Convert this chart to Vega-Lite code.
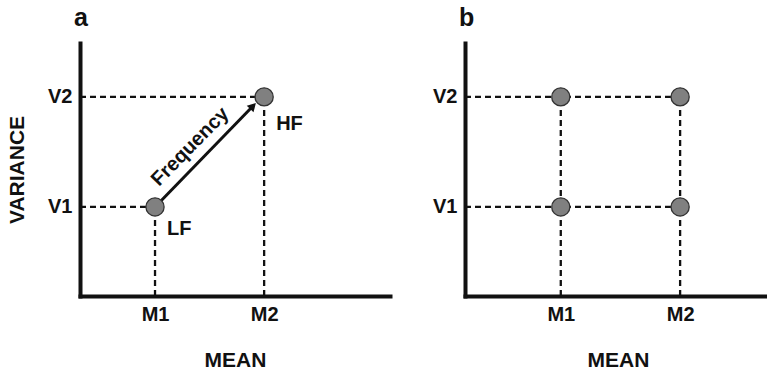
{
  "$schema": "https://vega.github.io/schema/vega-lite/v6.json",
  "padding": {"left": 6, "top": 6, "right": 0, "bottom": 0},
  "background": "white",
  "spacing": 42,
  "config": {
    "view": {"stroke": null},
    "font": "Liberation Sans",
    "axis": {
      "domainColor": "#111", "domainWidth": 4, "domainCap": "square",
      "ticks": false, "grid": false,
      "labelFont": "Liberation Sans", "labelFontSize": 20, "labelFontWeight": "bold", "labelColor": "#111", "labelPadding": 8,
      "titleFont": "Liberation Sans", "titleFontSize": 21, "titleFontWeight": "bold", "titleColor": "#111"
    },
    "title": {"font": "Liberation Sans", "fontSize": 25, "fontWeight": "bold", "anchor": "start", "frame": "group", "color": "#111", "offset": 12}
  },
  "datasets": {
    "guidesA": [
      {"x": 0, "x2": 2.42, "y": 3.52, "y2": 3.52},
      {"x": 0, "x2": 5.94, "y": 7.87, "y2": 7.87},
      {"x": 2.42, "x2": 2.42, "y": 0, "y2": 3.52},
      {"x": 5.94, "x2": 5.94, "y": 0, "y2": 7.87}
    ],
    "pointsA": [
      {"mean": 2.42, "variance": 3.52, "label": "LF"},
      {"mean": 5.94, "variance": 7.87, "label": "HF"}
    ],
    "arrow": [
      {"x": 2.42, "y": 3.52, "x2": 5.55, "y2": 7.47}
    ],
    "arrowText": [
      {"x": 3.55, "y": 5.9, "label": "Frequency"}
    ],
    "guidesB": [
      {"x": 0, "x2": 7.03, "y": 3.52, "y2": 3.52},
      {"x": 0, "x2": 7.03, "y": 7.87, "y2": 7.87},
      {"x": 3.13, "x2": 3.13, "y": 0, "y2": 7.87},
      {"x": 7.03, "x2": 7.03, "y": 0, "y2": 7.87}
    ],
    "pointsB": [
      {"mean": 3.13, "variance": 3.52},
      {"mean": 3.13, "variance": 7.87},
      {"mean": 7.03, "variance": 3.52},
      {"mean": 7.03, "variance": 7.87}
    ]
  },
  "hconcat": [
    {
      "width": 310, "height": 253,
      "title": {"text": "a", "dx": -6},
      "layer": [
        {
          "data": {"name": "guidesA"},
          "mark": {"type": "rule", "strokeDash": [6, 4], "strokeWidth": 2.3, "color": "#111"},
          "encoding": {
            "x": {"field": "x", "type": "quantitative", "scale": {"domain": [0, 10]},
                  "axis": {"values": [2.42, 5.94], "labelExpr": "datum.value < 4 ? 'M1' : 'M2'", "title": "MEAN", "titlePadding": 25}},
            "x2": {"field": "x2"},
            "y": {"field": "y", "type": "quantitative", "scale": {"domain": [0, 10]},
                  "axis": {"values": [3.52, 7.87], "labelExpr": "datum.value < 5 ? 'V1' : 'V2'", "title": "VARIANCE", "titlePadding": 20}},
            "y2": {"field": "y2"}
          }
        },
        {
          "data": {"name": "arrow"},
          "mark": {"type": "rule", "strokeWidth": 3, "color": "#111"},
          "encoding": {
            "x": {"field": "x", "type": "quantitative"},
            "x2": {"field": "x2"},
            "y": {"field": "y", "type": "quantitative"},
            "y2": {"field": "y2"}
          }
        },
        {
          "data": {"name": "arrow"},
          "mark": {"type": "point", "shape": "triangle", "angle": 44.5, "filled": true, "size": 90, "color": "#111", "opacity": 1},
          "encoding": {
            "x": {"field": "x2", "type": "quantitative"},
            "y": {"field": "y2", "type": "quantitative"}
          }
        },
        {
          "data": {"name": "pointsA"},
          "mark": {"type": "point", "shape": "circle", "filled": true, "size": 330, "fill": "#808080", "stroke": "#333", "strokeWidth": 1.3, "opacity": 1},
          "encoding": {
            "x": {"field": "mean", "type": "quantitative"},
            "y": {"field": "variance", "type": "quantitative"}
          }
        },
        {
          "data": {"name": "pointsA"},
          "transform": [{"filter": "datum.label == 'LF'"}],
          "mark": {"type": "text", "align": "left", "baseline": "middle", "dx": 12, "dy": 22, "fontSize": 20, "fontWeight": "bold", "color": "#111"},
          "encoding": {
            "x": {"field": "mean", "type": "quantitative"},
            "y": {"field": "variance", "type": "quantitative"},
            "text": {"field": "label"}
          }
        },
        {
          "data": {"name": "pointsA"},
          "transform": [{"filter": "datum.label == 'HF'"}],
          "mark": {"type": "text", "align": "left", "baseline": "middle", "dx": 12, "dy": 27, "fontSize": 20, "fontWeight": "bold", "color": "#111"},
          "encoding": {
            "x": {"field": "mean", "type": "quantitative"},
            "y": {"field": "variance", "type": "quantitative"},
            "text": {"field": "label"}
          }
        },
        {
          "data": {"name": "arrowText"},
          "mark": {"type": "text", "align": "center", "baseline": "middle", "angle": 314.5, "fontSize": 20, "fontWeight": "bold", "color": "#111"},
          "encoding": {
            "x": {"field": "x", "type": "quantitative"},
            "y": {"field": "y", "type": "quantitative"},
            "text": {"field": "label"}
          }
        }
      ]
    },
    {
      "width": 306, "height": 253,
      "title": {"text": "b", "dx": -6},
      "layer": [
        {
          "data": {"name": "guidesB"},
          "mark": {"type": "rule", "strokeDash": [6, 4], "strokeWidth": 2.3, "color": "#111"},
          "encoding": {
            "x": {"field": "x", "type": "quantitative", "scale": {"domain": [0, 10]},
                  "axis": {"values": [3.13, 7.03], "labelExpr": "datum.value < 5 ? 'M1' : 'M2'", "title": "MEAN", "titlePadding": 25}},
            "x2": {"field": "x2"},
            "y": {"field": "y", "type": "quantitative", "scale": {"domain": [0, 10]},
                  "axis": {"values": [3.52, 7.87], "labelExpr": "datum.value < 5 ? 'V1' : 'V2'", "title": null}},
            "y2": {"field": "y2"}
          }
        },
        {
          "data": {"name": "pointsB"},
          "mark": {"type": "point", "shape": "circle", "filled": true, "size": 330, "fill": "#808080", "stroke": "#333", "strokeWidth": 1.3, "opacity": 1},
          "encoding": {
            "x": {"field": "mean", "type": "quantitative"},
            "y": {"field": "variance", "type": "quantitative"}
          }
        }
      ]
    }
  ]
}
